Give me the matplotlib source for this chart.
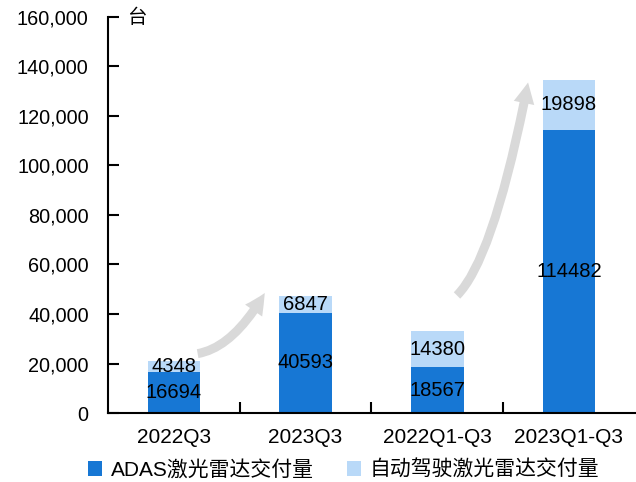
import matplotlib
matplotlib.use("Agg")
import matplotlib.pyplot as plt
from matplotlib.patches import FancyArrowPatch
from matplotlib.ticker import FuncFormatter, FixedLocator
import numpy as np

plt.rcParams['font.family'] = ['Liberation Sans', 'Noto Sans CJK SC', 'DejaVu Sans']

categories = ["2022Q3", "2023Q3", "2022Q1-Q3", "2023Q1-Q3"]
adas = [16694, 40593, 18567, 114482]
autonomous = [4348, 6847, 14380, 19898]
series_names = ["ADAS激光雷达交付量", "自动驾驶激光雷达交付量"]
unit_label = "台"

dark_blue = "#1777D4"
light_blue = "#B9D9F8"
arrow_gray = "#D9D9D9"

fig = plt.figure(figsize=(6.36, 4.82), dpi=100)
ax = fig.add_axes([0.17, 0.143, 0.828, 0.822])

x = np.arange(len(categories))
w = 0.4
ax.bar(x, adas, width=w, color=dark_blue, label=series_names[0], zorder=2)
ax.bar(x, autonomous, width=w, bottom=adas, color=light_blue, label=series_names[1], zorder=2)

for xi, a, b in zip(x, adas, autonomous):
    ax.text(xi, a / 2, str(a), ha='center', va='center', fontsize=14.5, color='black', zorder=4)
    ax.text(xi, a + b / 2, str(b), ha='center', va='center', fontsize=14.5, color='black', zorder=4)

ax.set_xlim(-0.5, len(categories) - 0.5)
ax.set_ylim(0, 160000)
ax.set_yticks(np.arange(0, 160001, 20000))
ax.yaxis.set_major_formatter(FuncFormatter(lambda v, p: f"{int(v):,}"))
ax.set_xticks(x)
ax.set_xticklabels(categories)
ax.xaxis.set_minor_locator(FixedLocator(x[:-1] + 0.5))

for s in ['top', 'right']:
    ax.spines[s].set_visible(False)
ax.spines['left'].set_linewidth(1.5)
ax.spines['bottom'].set_linewidth(1.5)

ax.tick_params(axis='y', direction='in', length=8, width=1.5, labelsize=14.3, pad=14)
ax.tick_params(axis='x', which='major', length=0, labelsize=15, pad=11)
ax.tick_params(axis='x', which='minor', direction='in', length=8, width=1.5)

ax.text(0.035, 0.997, unit_label, transform=ax.transAxes, fontsize=14, ha='left', va='center')

# growth arrows
arrow_style = "simple,head_width=15,head_length=15,tail_width=6.5"
a1 = FancyArrowPatch((0.18, 24000), (0.69, 48500), connectionstyle="angle3,angleA=10,angleB=60",
                     arrowstyle=arrow_style, color=arrow_gray, lw=0, zorder=3,
                     shrinkA=0, shrinkB=0)
ax.add_patch(a1)
a2 = FancyArrowPatch((2.15, 47500), (2.69, 133500), connectionstyle="angle3,angleA=45,angleB=79",
                     arrowstyle=arrow_style, color=arrow_gray, lw=0, zorder=3,
                     shrinkA=0, shrinkB=0)
ax.add_patch(a2)

fig.legend(loc='center', bbox_to_anchor=(0.54, 0.025), ncol=2, frameon=False,
           fontsize=15, handlelength=0.7, handleheight=0.7, handletextpad=0.4, columnspacing=1.6)

fig.savefig("out.png", dpi=100)
